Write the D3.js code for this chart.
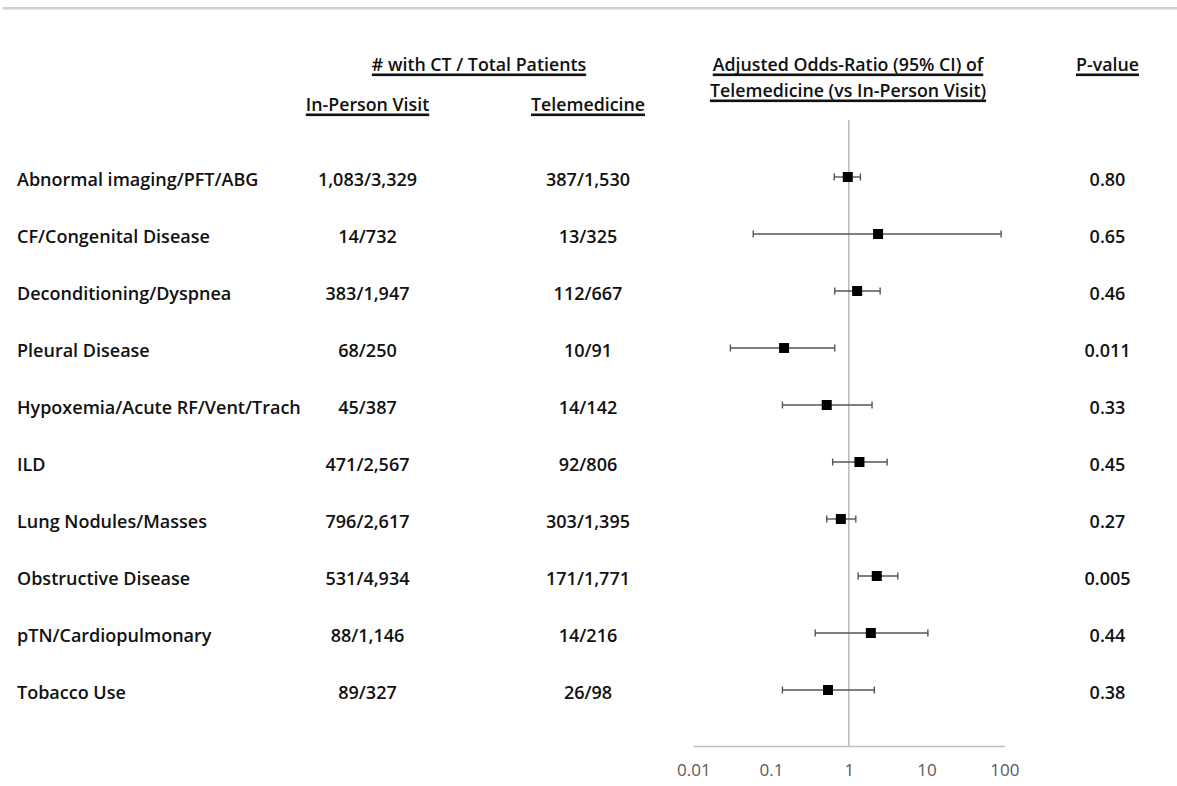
<!DOCTYPE html>
<html>
<head>
<meta charset="utf-8">
<script src="https://cdn.jsdelivr.net/npm/d3@7"></script>
<style>
  html, body { margin: 0; padding: 0; background: #fff; }
  svg { display: block; }
  text { font-family: "Open Sans", "Lato", sans-serif; }
</style>
</head>
<body>
<svg id="chart" width="1177" height="786"></svg>
<script>
// Subgroups of the forest plot
const categories = [
  "Abnormal imaging/PFT/ABG",
  "CF/Congenital Disease",
  "Deconditioning/Dyspnea",
  "Pleural Disease",
  "Hypoxemia/Acute RF/Vent/Trach",
  "ILD",
  "Lung Nodules/Masses",
  "Obstructive Disease",
  "pTN/Cardiopulmonary",
  "Tobacco Use"
];
// # with CT / total patients
const inPerson = ["1,083/3,329", "14/732", "383/1,947", "68/250", "45/387",
                  "471/2,567", "796/2,617", "531/4,934", "88/1,146", "89/327"];
const telemedicine = ["387/1,530", "13/325", "112/667", "10/91", "14/142",
                      "92/806", "303/1,395", "171/1,771", "14/216", "26/98"];
// Adjusted odds ratios with 95% CI
const oddsRatio = [0.97, 2.38, 1.28, 0.147, 0.52, 1.37, 0.79, 2.29, 1.92, 0.54];
const ciLow     = [0.65, 0.059, 0.66, 0.030, 0.14, 0.62, 0.52, 1.32, 0.37, 0.14];
const ciHigh    = [1.41, 91, 2.53, 0.66, 1.99, 3.11, 1.23, 4.27, 10.4, 2.13];
const pValues   = ["0.80", "0.65", "0.46", "0.011", "0.33", "0.45", "0.27", "0.005", "0.44", "0.38"];
// Log axis ticks
const tickValues = [0.01, 0.1, 1, 10, 100];
const tickLabels = ["0.01", "0.1", "1", "10", "100"];

const svg = d3.select("#chart");
const fs = 18;
const hfs = 17.8;

// thin rule across the top
svg.append("rect").attr("x", 3).attr("y", 7).attr("width", 1174).attr("height", 2.5).attr("fill", "#cfcfcf");

const x = d3.scaleLog().domain([0.01, 100]).range([693.3, 1004.3]);
const y = d3.scalePoint().domain(d3.range(categories.length)).range([177, 690]);

const colIn = 367.5, colTele = 588, colP = 1107.5, colLabel = 17;

// underlined headers
function header(text, cx, cy) {
  const t = svg.append("text")
    .attr("x", cx).attr("y", cy)
    .attr("text-anchor", "middle")
    .attr("dominant-baseline", "central")
    .attr("font-size", hfs).attr("font-weight", 600).attr("fill", "#111")
    .text(text);
  const w = t.node().getComputedTextLength();
  svg.append("rect").attr("x", cx - w / 2).attr("y", cy + 9.5).attr("width", w).attr("height", 2.6).attr("fill", "#111");
}
header("# with CT / Total Patients", 479, 64);
header("In-Person Visit", colIn, 104);
header("Telemedicine", colTele, 104);
header("Adjusted Odds-Ratio (95% CI) of", 848, 64);
header("Telemedicine (vs In-Person Visit)", 848, 90);
header("P-value", colP, 64);

// table columns
const rows = svg.append("g").selectAll("g").data(categories).join("g")
  .attr("transform", (d, i) => `translate(0,${y(i) + 2})`);
const cell = (sel, xpos, anchor, fn) => sel.append("text")
  .attr("x", xpos).attr("text-anchor", anchor).attr("dominant-baseline", "central")
  .attr("font-size", fs).attr("font-weight", 600).attr("fill", "#111").text(fn);
cell(rows, colLabel, "start", d => d);
cell(rows, colIn, "middle", (d, i) => inPerson[i]);
cell(rows, colTele, "middle", (d, i) => telemedicine[i]);
cell(rows, colP, "middle", (d, i) => pValues[i]);

// reference line at OR = 1 and the x axis
svg.append("line").attr("x1", x(1)).attr("x2", x(1)).attr("y1", 120).attr("y2", 746)
  .attr("stroke", "#bdbdbd").attr("stroke-width", 1.6);
const axis = d3.axisBottom(x).tickValues(tickValues).tickFormat((d, i) => tickLabels[i]).tickSize(0).tickPadding(18);
const ax = svg.append("g").attr("transform", "translate(0,746)").call(axis);
ax.select(".domain").attr("stroke", "#bdbdbd").attr("stroke-width", 1.6);
ax.selectAll("text").attr("font-size", 17).attr("fill", "#595959")
  .attr("font-family", "'Open Sans', sans-serif");

// confidence intervals and point estimates
const marks = svg.append("g").selectAll("g").data(oddsRatio).join("g")
  .attr("transform", (d, i) => `translate(0,${y(i)})`);
marks.append("line").attr("x1", (d, i) => x(ciLow[i])).attr("x2", (d, i) => x(ciHigh[i]))
  .attr("stroke", "#555").attr("stroke-width", 1.4);
marks.append("line").attr("x1", (d, i) => x(ciLow[i])).attr("x2", (d, i) => x(ciLow[i]))
  .attr("y1", -3.5).attr("y2", 3.5).attr("stroke", "#555").attr("stroke-width", 1.4);
marks.append("line").attr("x1", (d, i) => x(ciHigh[i])).attr("x2", (d, i) => x(ciHigh[i]))
  .attr("y1", -3.5).attr("y2", 3.5).attr("stroke", "#555").attr("stroke-width", 1.4);
marks.append("rect").attr("x", d => x(d) - 5).attr("y", -5).attr("width", 10).attr("height", 10)
  .attr("fill", "#000");
</script>
</body>
</html>
